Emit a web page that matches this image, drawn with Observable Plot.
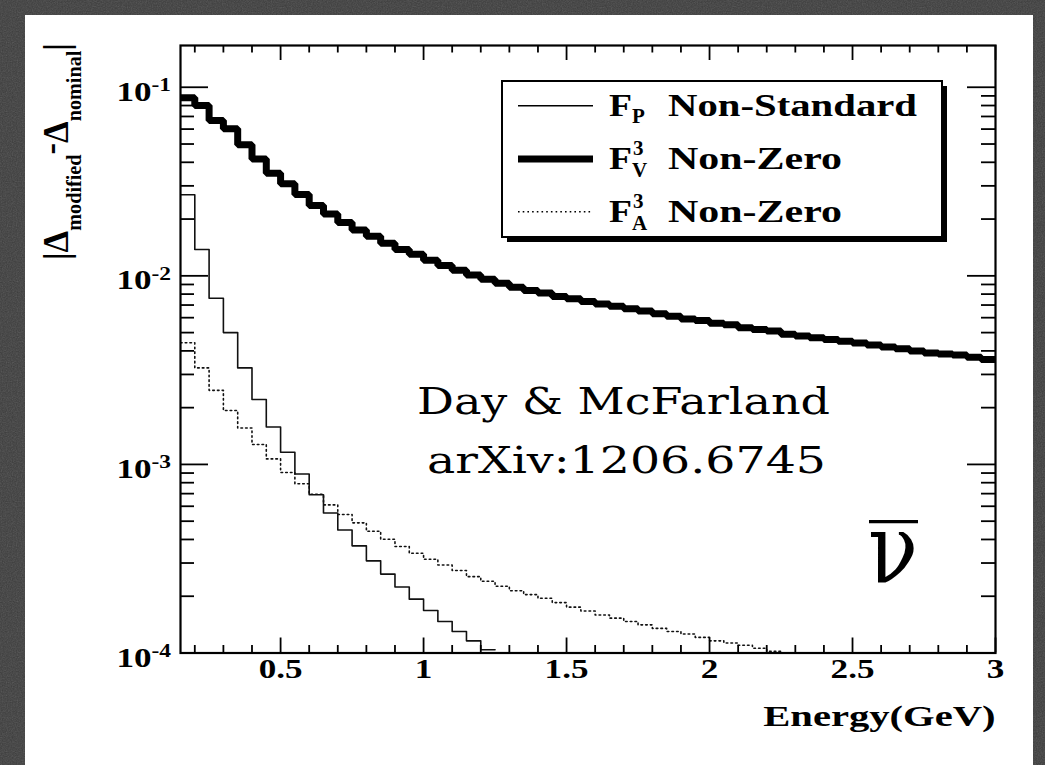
<!DOCTYPE html>
<html>
<head>
<meta charset="utf-8">
<script src="https://cdn.jsdelivr.net/npm/d3@7"></script>
<script src="https://cdn.jsdelivr.net/npm/@observablehq/plot@0.6"></script>
<style>
  html, body { margin: 0; padding: 0; width: 1045px; height: 765px; overflow: hidden; background: #3c3c3c; }
  #noise { position: absolute; left: 0; top: 0; }
  #panel { position: absolute; left: 25px; top: 15px; width: 1008px; height: 760px; background: #ffffff; }
  #chart { position: absolute; left: 0; top: 0; }
</style>
</head>
<body>
<svg id="noise" width="1045" height="765">
  <filter id="grain"><feTurbulence type="fractalNoise" baseFrequency="0.8" numOctaves="2" seed="3"/><feColorMatrix type="saturate" values="0"/></filter>
  <rect width="1045" height="765" filter="url(#grain)" opacity="0.22"/>
</svg>
<div id="panel"></div>
<div id="chart"></div>
<script>
// ---- data ----
const binEdges = [0.15,0.2,0.25,0.3,0.35,0.4,0.45,0.5,0.55,0.6,0.65,0.7,0.75,0.8,0.85,0.9,0.95,1.0,
  1.05,1.1,1.15,1.2,1.25,1.3,1.35,1.4,1.45,1.5,1.55,1.6,1.65,1.7,1.75,1.8,1.85,1.9,1.95,2.0,
  2.05,2.1,2.15,2.2,2.25,2.3,2.35,2.4,2.45,2.5,2.55,2.6,2.65,2.7,2.75,2.8,2.85,2.9,2.95,3.0];

// F_V^3 Non-Zero (thick)
const fvValues = [0.0879,0.080,0.0666,0.0602,0.0495,0.0417,0.0350,0.0308,0.0270,0.0236,0.0213,0.0192,
  0.0175,0.0162,0.0149,0.0138,0.0130,0.0121,0.01135,0.0107,0.0101,0.0096,0.00914,0.0087,0.00836,
  0.0081,0.00777,0.00755,0.0073,0.0071,0.0069,0.0067,0.0065,0.0063,0.0061,0.0059,0.0058,0.0056,
  0.0055,0.0053,0.0052,0.0051,0.0049,0.0048,0.0047,0.0046,0.0045,0.0044,0.0043,0.0042,0.0041,
  0.0040,0.0039,0.00385,0.0038,0.0037,0.0036];

// F_P Non-Standard (thin solid)
const fpValues = [0.0269,0.0138,0.0076,0.0050,0.00325,0.00221,0.00158,0.00116,0.00089,0.00069,
  0.000553,0.000449,0.00037,0.000308,0.000262,0.000224,0.000193,0.000168,0.000147,0.00013,
  0.000116,0.000104];

// F_A^3 Non-Zero (dotted)
const faValues = [0.00442,0.00325,0.00247,0.00193,0.00156,0.001275,0.00107,0.000906,0.00079,0.000695,
  0.00061,0.000543,0.00049,0.000442,0.000401,0.000367,0.000338,0.000314,0.000293,0.000274,
  0.000254,0.00024,0.000226,0.000214,0.000204,0.000195,0.000185,0.000175,0.000167,0.000159,
  0.000153,0.000147,0.000141,0.000135,0.00013,0.000126,0.000121,0.000116,0.000113,0.00011,
  0.000106,0.000102];

const xMajorTicks = [0.5, 1, 1.5, 2, 2.5, 3];
const xMajorLabels = ["0.5", "1", "1.5", "2", "2.5", "3"];
const xMinorTicks = [0.2,0.3,0.4,0.6,0.7,0.8,0.9,1.1,1.2,1.3,1.4,1.6,1.7,1.8,1.9,2.1,2.2,2.3,2.4,2.6,2.7,2.8,2.9];
const yMajorTicks = [1e-4, 1e-3, 1e-2, 1e-1];
const yMajorExps = ["-4", "-3", "-2", "-1"];
const yMinorTicks = [2e-4,3e-4,4e-4,5e-4,6e-4,7e-4,8e-4,9e-4,2e-3,3e-3,4e-3,5e-3,6e-3,7e-3,8e-3,9e-3,
  2e-2,3e-2,4e-2,5e-2,6e-2,7e-2,8e-2,9e-2];

const legendLabels = ["Non-Standard", "Non-Zero", "Non-Zero"];
const xTitle = "Energy(GeV)";
const noteLines = ["Day & McFarland", "arXiv:1206.6745"];

function histPoints(vals) {
  const pts = vals.map((v, i) => ({x: binEdges[i], y: v}));
  pts.push({x: binEdges[vals.length], y: vals[vals.length - 1]});
  return pts;
}

const W = 1045, H = 765;
const mL = 180, mR = 50, mT = 45, mB = 112.5;
const pw = W - mL - mR, ph = H - mT - mB;
const FONT = "Liberation Serif, Times New Roman, serif";

const chart = Plot.plot({
  width: W, height: H,
  marginLeft: mL, marginRight: mR, marginTop: mT, marginBottom: mB,
  style: {background: "transparent", overflow: "visible", fontFamily: FONT},
  x: {domain: [0.15, 3], axis: null},
  y: {type: "log", domain: [1e-4, 0.1665], axis: null},
  marks: [
    Plot.line(histPoints(faValues), {x: "x", y: "y", curve: "step-after", stroke: "#111", strokeWidth: 1.6, strokeDasharray: "1.6,3.1", clip: true}),
    Plot.line(histPoints(fpValues), {x: "x", y: "y", curve: "step-after", stroke: "#111", strokeWidth: 1.6, clip: true}),
    Plot.line(histPoints(fvValues), {x: "x", y: "y", curve: "step-after", stroke: "#000", strokeWidth: 7, strokeLinejoin: "miter", clip: true}),
    // ticks: bottom / top
    Plot.ruleX(xMajorTicks, {x: d => d, insetTop: ph - 15, stroke: "#000", strokeWidth: 1.8}),
    Plot.ruleX(xMinorTicks, {x: d => d, insetTop: ph - 7.5, stroke: "#000", strokeWidth: 1.8}),
    Plot.ruleX(xMajorTicks, {x: d => d, insetBottom: ph - 15, stroke: "#000", strokeWidth: 1.8}),
    Plot.ruleX(xMinorTicks, {x: d => d, insetBottom: ph - 7.5, stroke: "#000", strokeWidth: 1.8}),
    // ticks: left / right
    Plot.ruleY(yMajorTicks, {y: d => d, insetRight: pw - 28, stroke: "#000", strokeWidth: 1.8}),
    Plot.ruleY(yMinorTicks, {y: d => d, insetRight: pw - 14, stroke: "#000", strokeWidth: 1.8}),
    Plot.ruleY(yMajorTicks, {y: d => d, insetLeft: pw - 28, stroke: "#000", strokeWidth: 1.8}),
    Plot.ruleY(yMinorTicks, {y: d => d, insetLeft: pw - 14, stroke: "#000", strokeWidth: 1.8}),
    Plot.frame({stroke: "#000", strokeWidth: 2.2}),
    // tick labels
    Plot.text(xMajorTicks, {x: d => d, text: (d, i) => xMajorLabels[i], frameAnchor: "bottom", dy: 25, fontSize: 27, fontWeight: "bold", fill: "#000"}),
    Plot.text(yMajorTicks, {y: d => d, text: () => "10", frameAnchor: "left", textAnchor: "end", dx: -29, dy: 5, fontSize: 27, fontWeight: "bold", fill: "#000"}),
    Plot.text(yMajorTicks, {y: d => d, text: (d, i) => yMajorExps[i], frameAnchor: "left", textAnchor: "start", dx: -29, dy: -2, fontSize: 18, fontWeight: "bold", fill: "#000"}),
    Plot.text([xTitle], {text: d => d, frameAnchor: "bottom-right", dy: 73, textAnchor: "end", fontSize: 29, fontWeight: "bold", fill: "#000"})
  ]
});
document.getElementById("chart").appendChild(chart);

// horizontal stretch of the ROOT-style labels (the original figure is widened)
chart.querySelectorAll('g[aria-label="text"] text').forEach(t => {
  const isTitle = t.textContent === xTitle;
  const len = t.getComputedTextLength();
  t.setAttribute("textLength", len * (isTitle ? 1.4 : 1.3));
  t.setAttribute("lengthAdjust", "spacingAndGlyphs");
});

// ---- annotations drawn into the same SVG ----
const svg = d3.select(chart);
const ns = svg.append("g").attr("font-family", FONT).attr("fill", "#000").attr("text-anchor", "start");

// y-axis title, rotated
const yt = ns.append("text").attr("transform", "translate(68,260) rotate(-90)")
  .attr("font-weight", "bold").attr("font-size", 36).attr("textLength", 217).attr("lengthAdjust", "spacingAndGlyphs");
yt.append("tspan").text("|\u0394");
yt.append("tspan").attr("font-size", 21).attr("dy", 13).text("modified");
yt.append("tspan").attr("dy", -19).text("-");
yt.append("tspan").attr("dy", 6).text("\u0394");
yt.append("tspan").attr("font-size", 21).attr("dy", 13).text("nominal");
yt.append("tspan").attr("dy", -13).text("|");

// legend
const lg = ns.append("g");
lg.append("rect").attr("x", 507).attr("y", 86).attr("width", 440).attr("height", 156).attr("fill", "#000");
lg.append("rect").attr("x", 502).attr("y", 81).attr("width", 440).attr("height", 156).attr("fill", "#fff").attr("stroke", "#000").attr("stroke-width", 2);
const rows = [105.7, 159, 211.7];
lg.append("line").attr("x1", 518).attr("x2", 593).attr("y1", rows[0]).attr("y2", rows[0]).attr("stroke", "#000").attr("stroke-width", 1.6);
lg.append("line").attr("x1", 518).attr("x2", 593).attr("y1", rows[1]).attr("y2", rows[1]).attr("stroke", "#000").attr("stroke-width", 7);
lg.append("line").attr("x1", 518).attr("x2", 593).attr("y1", rows[2]).attr("y2", rows[2]).attr("stroke", "#000").attr("stroke-width", 1.6).attr("stroke-dasharray", "1.6,3.1");
const bl = rows.map(r => r + 10);
bl.forEach(b => lg.append("text").attr("x", 609).attr("y", b).attr("font-size", 31).attr("font-weight", "bold").attr("textLength", 23).attr("lengthAdjust", "spacingAndGlyphs").text("F"));
lg.append("text").attr("x", 632).attr("y", bl[0] + 7).attr("font-size", 21).attr("font-weight", "bold").text("P");
lg.append("text").attr("x", 633).attr("y", bl[1] - 14).attr("font-size", 21).attr("font-weight", "bold").text("3");
lg.append("text").attr("x", 632).attr("y", bl[1] + 8).attr("font-size", 21).attr("font-weight", "bold").text("V");
lg.append("text").attr("x", 633).attr("y", bl[2] - 14).attr("font-size", 21).attr("font-weight", "bold").text("3");
lg.append("text").attr("x", 632).attr("y", bl[2] + 8).attr("font-size", 21).attr("font-weight", "bold").text("A");
lg.append("text").attr("x", 668).attr("y", bl[0]).attr("font-size", 31).attr("font-weight", "bold").attr("textLength", 249).attr("lengthAdjust", "spacingAndGlyphs").text(legendLabels[0]);
lg.append("text").attr("x", 668).attr("y", bl[1]).attr("font-size", 31).attr("font-weight", "bold").attr("textLength", 174).attr("lengthAdjust", "spacingAndGlyphs").text(legendLabels[1]);
lg.append("text").attr("x", 668).attr("y", bl[2]).attr("font-size", 31).attr("font-weight", "bold").attr("textLength", 174).attr("lengthAdjust", "spacingAndGlyphs").text(legendLabels[2]);

// note
ns.append("text").attr("x", 417).attr("y", 414).attr("font-family", "DejaVu Serif, serif").attr("font-size", 37)
  .attr("textLength", 413).attr("lengthAdjust", "spacingAndGlyphs").text(noteLines[0]);
ns.append("text").attr("x", 427).attr("y", 473).attr("font-family", "DejaVu Serif, serif").attr("font-size", 37)
  .attr("textLength", 399).attr("lengthAdjust", "spacingAndGlyphs").text(noteLines[1]);

// anti-neutrino symbol
ns.append("text").attr("x", 868).attr("y", 583).attr("font-family", "DejaVu Serif, serif").attr("font-size", 98)
  .attr("textLength", 50).attr("lengthAdjust", "spacingAndGlyphs").text("\u03BD");
ns.append("line").attr("x1", 869).attr("x2", 918).attr("y1", 521.7).attr("y2", 521.7).attr("stroke", "#000").attr("stroke-width", 3.3);
</script>
</body>
</html>
